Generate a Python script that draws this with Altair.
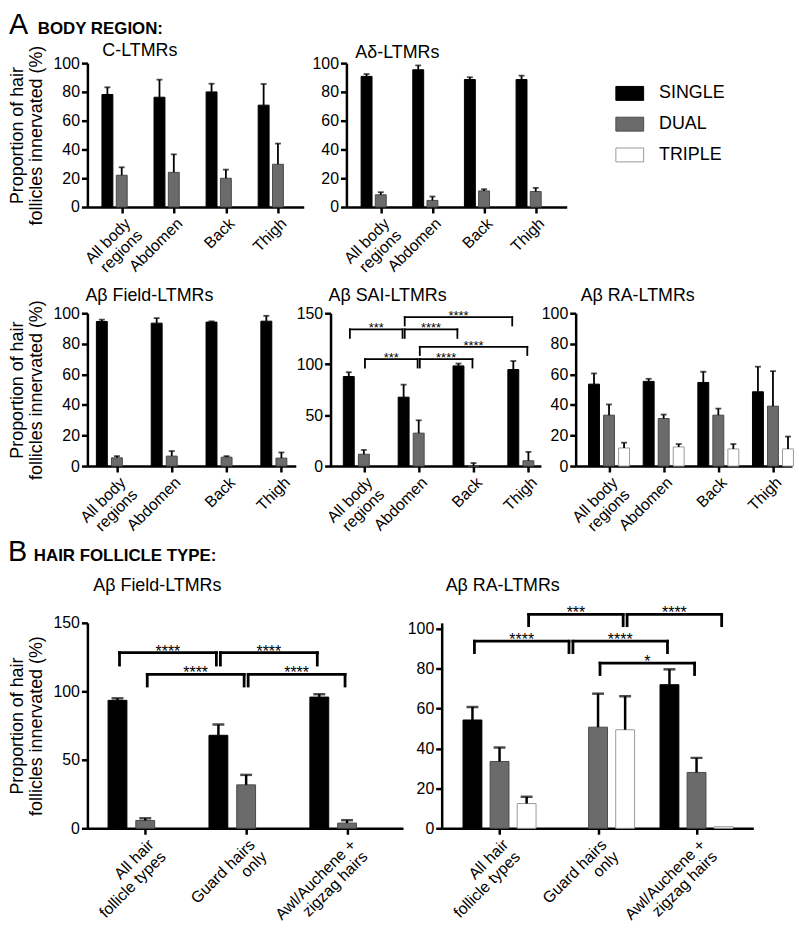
import json
import altair as alt
import pandas as pd

FONT = "Liberation Sans"

SERIES = ["SINGLE", "DUAL", "TRIPLE"]
FILL_COLORS = ["#000000", "#6b6b6b", "#ffffff"]
STROKE_COLORS = ["#000000", "#4a4a4a", "#9a9a9a"]

BODY_REGIONS = ["All body|regions", "Abdomen", "Back", "Thigh"]
HAIR_TYPES = ["All hair|follicle types", "Guard hairs|only", "Awl/Auchene +|zigzag hairs"]

HEADING_A = ["A", "BODY REGION:"]
HEADING_B = ["B", "HAIR FOLLICLE TYPE:"]
Y_TITLE = ["Proportion of hair", "follicles innervated (%)"]

# ---- A: body region ----
C_SINGLE = [78.2, 76.3, 80.0, 70.8]
C_SINGLE_SEM = [5.0, 12.2, 5.7, 14.7]
C_DUAL = [22.1, 24.1, 20.0, 29.7]
C_DUAL_SEM = [5.5, 12.5, 6.0, 14.4]

AD_SINGLE = [90.8, 95.4, 88.6, 88.6]
AD_SINGLE_SEM = [1.6, 3.0, 1.6, 2.7]
AD_DUAL = [8.5, 4.6, 11.2, 10.8]
AD_DUAL_SEM = [1.8, 2.7, 1.2, 2.5]

FIELD_SINGLE = [94.6, 93.5, 94.2, 94.8]
FIELD_SINGLE_SEM = [1.2, 3.3, 0.5, 3.5]
FIELD_DUAL = [5.4, 6.5, 5.8, 5.2]
FIELD_DUAL_SEM = [1.1, 3.3, 0.7, 3.7]

SAI_SINGLE = [87.9, 67.6, 98.3, 94.7]
SAI_SINGLE_SEM = [4.2, 12.3, 2.3, 8.4]
SAI_DUAL = [11.6, 32.3, 0.0, 5.2]
SAI_DUAL_SEM = [4.2, 12.6, 3.0, 8.7]
SAI_BRACKETS = [
    (0, "SINGLE", 1, "SINGLE", 134.2, 125.8, "***"),
    (1, "SINGLE", 2, "SINGLE", 134.2, 125.8, "****"),
    (1, "SINGLE", 3, "SINGLE", 146.1, 138.0, "****"),
    (0, "DUAL", 1, "DUAL", 105.0, 96.7, "***"),
    (1, "DUAL", 2, "DUAL", 105.0, 96.7, "****"),
    (1, "DUAL", 3, "DUAL", 117.0, 109.0, "****"),
]

RA_SINGLE = [53.6, 55.4, 54.7, 48.6]
RA_SINGLE_SEM = [7.0, 1.7, 7.0, 16.4]
RA_DUAL = [33.3, 31.1, 33.3, 39.2]
RA_DUAL_SEM = [7.0, 2.6, 4.3, 22.9]
RA_TRIPLE = [11.8, 12.5, 11.2, 11.2]
RA_TRIPLE_SEM = [3.5, 1.9, 3.2, 8.1]

# ---- B: hair follicle type ----
BF_SINGLE = [93.4, 67.9, 95.8]
BF_SINGLE_SEM = [1.5, 7.8, 2.1]
BF_DUAL = [5.7, 31.7, 3.8]
BF_DUAL_SEM = [1.6, 7.3, 2.1]
BF_BRACKETS = [
    (0, "SINGLE", 1, "SINGLE", 128.2, 119.2, "****"),
    (1, "SINGLE", 2, "SINGLE", 128.2, 119.2, "****"),
    (0, "DUAL", 1, "DUAL", 112.4, 103.9, "****"),
    (1, "DUAL", 2, "DUAL", 112.4, 103.9, "****"),
]

BR_SINGLE = [54.3, None, 72.0]
BR_SINGLE_SEM = [6.5, None, 7.7]
BR_DUAL = [33.5, 50.7, 28.0]
BR_DUAL_SEM = [7.0, 16.8, 7.3]
BR_TRIPLE = [12.4, 49.4, 0.8]
BR_TRIPLE_SEM = [3.4, 16.8, 0.0]
BR_BRACKETS = [
    (0, "TRIPLE", 1, "TRIPLE", 107.2, 101.6, "***"),
    (1, "TRIPLE", 2, "TRIPLE", 107.2, 101.6, "****"),
    (0, "SINGLE", 1, "SINGLE", 93.8, 88.1, "****"),
    (1, "SINGLE", 2, "SINGLE", 93.8, 88.1, "****"),
    (1, "DUAL", 2, "DUAL", 82.8, 77.1, "*"),
]

SLOT = 0.275
GAP = 0.02


def xpos(g, s):
    return g + (SERIES.index(s) - 1) * SLOT


def long_df(series_vals):
    rows = []
    for s, (means, sems) in series_vals.items():
        for g, (m, e) in enumerate(zip(means, sems)):
            if m is None:
                continue
            rows.append(dict(series=s, x=xpos(g, s), mean=m, top=m + e, sem=e))
    return pd.DataFrame(rows)


LEGEND = alt.Legend(
    orient="none", legendX=532, legendY=16, title=None,
    symbolType="M-1,-0.5H1V0.5H-1Z", symbolSize=784, symbolStrokeWidth=1,
    labelFontSize=18, labelFont=FONT, labelColor="black",
    rowPadding=7, labelOffset=15,
)


def text_layer(txt, x, y, size, weight="normal"):
    return alt.Chart(pd.DataFrame({"t": [txt]})).mark_text(
        align="left", baseline="alphabetic", fontSize=size, fontWeight=weight,
        font=FONT, color="black").encode(x=alt.value(x), y=alt.value(y), text="t:N")


def panel(df, cats, xdom, ydom, yticks, w, h, title, title_pos,
          big=False, ytitle=None, brackets=None, heading=None, heading_pos=None):
    bw = 19 if big else 11
    cw = 12 if big else 6
    ew = 2.5 if big else 1.8
    xs = alt.Scale(domain=xdom, nice=False, zero=False)
    ys = alt.Scale(domain=ydom, nice=False, zero=True)
    xaxis = alt.Axis(
        values=list(range(len(cats))),
        labelExpr="split(" + json.dumps(cats) + "[datum.value], '|')",
        labelAngle=-45, labelAlign="right", labelBaseline="top",
        labelPadding=2, labelLineHeight=17, labelOverlap=False, labelFlush=False,
        title=None, tickSize=6,
    )
    yaxis = alt.Axis(
        values=yticks, title=ytitle if ytitle else None, tickSize=6,
        titlePadding=8, titleLineHeight=19, labelPadding=2,
        labelOverlap=False, labelFlush=False,
    )
    X = alt.X("x:Q", scale=xs, axis=xaxis)
    layers = []
    bars = alt.Chart(df).mark_bar(size=bw, strokeWidth=1).encode(
        x=X,
        y=alt.Y("mean:Q", scale=ys, axis=yaxis),
        fill=alt.Fill("series:N", scale=alt.Scale(domain=SERIES, range=FILL_COLORS), legend=LEGEND),
        stroke=alt.Stroke("series:N", scale=alt.Scale(domain=SERIES, range=STROKE_COLORS), legend=LEGEND),
    )
    layers.append(bars)
    edf = df[df["sem"] > 0]
    errs = alt.Chart(edf).mark_rule(color="black", strokeWidth=ew).encode(
        x=X, y=alt.Y("mean:Q", scale=ys, axis=yaxis), y2="top:Q")
    caps = alt.Chart(edf).mark_tick(orient="horizontal", size=cw, thickness=ew, color="black").encode(
        x=X, y=alt.Y("top:Q", scale=ys, axis=yaxis))
    layers += [errs, caps]
    if brackets:
        segs, labs = [], []
        for g1, s1, g2, s2, top, bot, lab in brackets:
            xa = xpos(g1, s1) + GAP
            xb = xpos(g2, s2) - GAP
            segs += [dict(x=xa, x2=xb, y=top, y2=top),
                     dict(x=xa, x2=xa, y=bot, y2=top),
                     dict(x=xb, x2=xb, y=bot, y2=top)]
            labs.append(dict(x=(xa + xb) / 2, y=top, label=lab))
        bl = alt.Chart(pd.DataFrame(segs)).mark_rule(
            color="black", strokeWidth=2.8 if big else 1.8, strokeCap="square").encode(
            x=X, x2="x2:Q", y=alt.Y("y:Q", scale=ys, axis=yaxis), y2="y2:Q")
        bt = alt.Chart(pd.DataFrame(labs)).mark_text(
            fontSize=16 if big else 13, font=FONT, baseline="alphabetic",
            dy=4 if big else 3, color="black").encode(
            x=X, y=alt.Y("y:Q", scale=ys, axis=yaxis), text="label:N")
        layers += [bl, bt]
    layers.append(text_layer(title, title_pos[0], title_pos[1], 18))
    if heading:
        (xa, xb, yb) = heading_pos
        layers += [text_layer(heading[0], xa, yb, 29),
                   text_layer(heading[1], xb, yb, 17, "bold")]
    return alt.layer(*layers).properties(width=w, height=h)


pA1 = panel(long_df({"SINGLE": (C_SINGLE, C_SINGLE_SEM), "DUAL": (C_DUAL, C_DUAL_SEM)}),
            BODY_REGIONS, [-0.564, 3.4], [0, 100], [0, 20, 40, 60, 80, 100], 218, 145,
            "C-LTMRs", (15, -7), ytitle=Y_TITLE, heading=HEADING_A, heading_pos=(-79, -50, -29))
pA2 = panel(long_df({"SINGLE": (AD_SINGLE, AD_SINGLE_SEM), "DUAL": (AD_DUAL, AD_DUAL_SEM)}),
            BODY_REGIONS, [-0.569, 3.504], [0, 100], [0, 20, 40, 60, 80, 100], 222, 145,
            "Aδ-LTMRs", (9, -5))
pA3 = panel(long_df({"SINGLE": (FIELD_SINGLE, FIELD_SINGLE_SEM), "DUAL": (FIELD_DUAL, FIELD_DUAL_SEM)}),
            BODY_REGIONS, [-0.448, 3.172], [0, 100], [0, 20, 40, 60, 80, 100], 210, 154,
            "Aβ Field-LTMRs", (-2, -12), ytitle=Y_TITLE)
pA4 = panel(long_df({"SINGLE": (SAI_SINGLE, SAI_SINGLE_SEM), "DUAL": (SAI_DUAL, SAI_DUAL_SEM)}),
            BODY_REGIONS, [-0.517, 3.138], [0, 150], [0, 50, 100, 150], 212, 154,
            "Aβ SAI-LTMRs", (-2, -12), brackets=SAI_BRACKETS)
pA5 = panel(long_df({"SINGLE": (RA_SINGLE, RA_SINGLE_SEM), "DUAL": (RA_DUAL, RA_DUAL_SEM),
                     "TRIPLE": (RA_TRIPLE, RA_TRIPLE_SEM)}),
            BODY_REGIONS, [-0.52, 3.258], [0, 100], [0, 20, 40, 60, 80, 100], 218, 154,
            "Aβ RA-LTMRs", (5, -12))
pB1 = panel(long_df({"SINGLE": (BF_SINGLE, BF_SINGLE_SEM), "DUAL": (BF_DUAL, BF_DUAL_SEM)}),
            HAIR_TYPES, [-0.524, 2.505], [0, 150], [0, 50, 100, 150], 318, 207,
            "Aβ Field-LTMRs", (6, -32), big=True, ytitle=Y_TITLE, brackets=BF_BRACKETS,
            heading=HEADING_B, heading_pos=(-80, -54, -62))
pB2 = panel(long_df({"SINGLE": (BR_SINGLE, BR_SINGLE_SEM), "DUAL": (BR_DUAL, BR_DUAL_SEM),
                     "TRIPLE": (BR_TRIPLE, BR_TRIPLE_SEM)}),
            HAIR_TYPES, [-0.537, 2.526], [0, 103], [0, 20, 40, 60, 80, 100], 314, 207,
            "Aβ RA-LTMRs", (4, -32), big=True, brackets=BR_BRACKETS)

rowA1 = alt.hconcat(pA1, pA2, spacing=43, bounds="flush")
rowA2 = alt.hconcat(pA3, pA4, pA5, spacing=35, bounds="flush")
rowB = alt.hconcat(pB1, pB2, spacing=39, bounds="flush")

chart = alt.vconcat(
    alt.vconcat(rowA1, rowA2, spacing=9),
    rowB, spacing=1,
).properties(padding=0).configure_view(strokeWidth=0).configure_axis(
    labelFont=FONT, titleFont=FONT, labelFontSize=16, titleFontSize=18,
    titleFontWeight="normal", labelColor="black", titleColor="black",
    domainColor="black", tickColor="black", domainWidth=2.5, tickWidth=2.5, grid=False,
)

chart.save("out.html", embed_options={"renderer": "svg", "actions": False})
